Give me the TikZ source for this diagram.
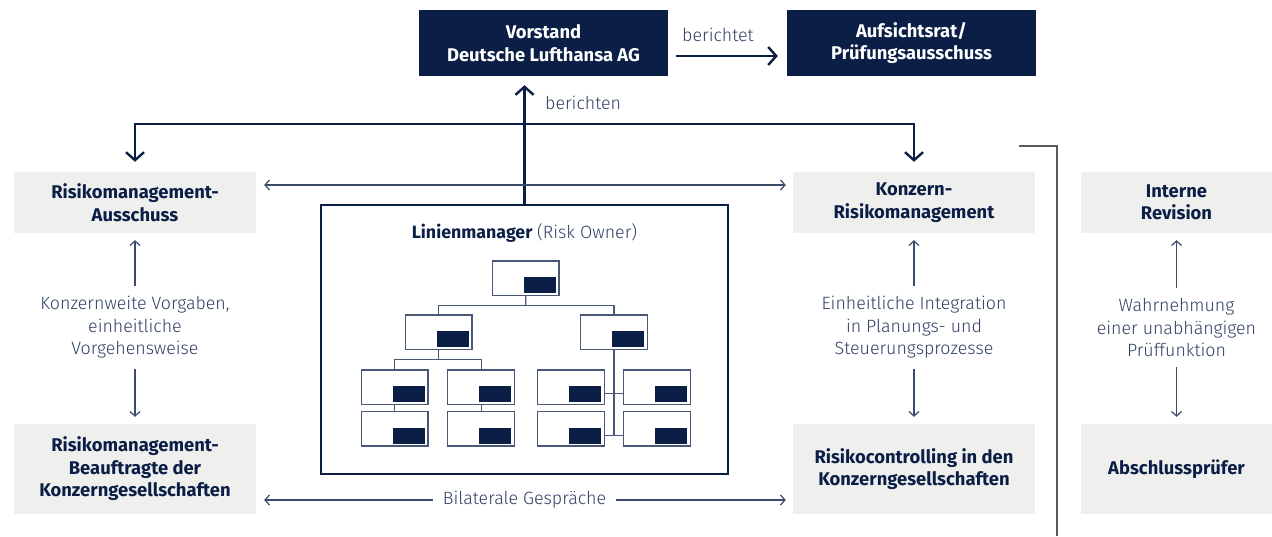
\documentclass[tikz,border=0pt]{standalone}
\usepackage{fontspec}
\setmainfont{Fira Sans}
\newfontfamily\lightfont{Fira Sans Light}
\usetikzlibrary{arrows.meta,calc}
\definecolor{navy}{HTML}{0A1E46}
\definecolor{boxgray}{HTML}{EFEFEE}
\definecolor{thinline}{HTML}{3A4B6C}
\definecolor{txt}{HTML}{2E3F62}
\definecolor{orgline}{HTML}{4A5878}
\definecolor{bracketgray}{HTML}{5A5A5A}
\begin{document}
\begin{tikzpicture}[x=1pt,y=-1pt,
  boldtxt/.style={font=\fontsize{18.4}{22.5}\selectfont\bfseries},
  darkbox/.style={fill=navy,text=white,boldtxt,minimum width=249pt,minimum height=66pt,inner sep=0pt,align=center},
  graybox/.style={fill=boxgray,text=navy,boldtxt,minimum width=242pt,minimum height=61pt,inner sep=0pt,align=center},
  lbl/.style={text=txt,font=\lightfont\fontsize{17.8}{22.5}\selectfont,align=center,inner xsep=0pt,inner ysep=10pt},
  thickarrow/.style={draw=navy,line width=2.4pt,-{Straight Barb[length=8pt,width=18pt,line width=2.4pt]}},
  thinarrow/.style={draw=thinline,line width=1.2pt,-{Straight Barb[length=4.5pt,width=10pt,line width=1.2pt]}},
  thinboth/.style={draw=thinline,line width=1.2pt,{Straight Barb[length=4.5pt,width=10pt,line width=1.2pt]}-{Straight Barb[length=4.5pt,width=10pt,line width=1.2pt]}},
  orgbox/.style={draw=orgline,line width=1.2pt,fill=white,minimum width=66.7pt,minimum height=34.3pt,inner sep=0pt},
  orgconn/.style={draw=orgline,line width=1.2pt},
]
\useasboundingbox (0,0) rectangle (1272,536);

% top boxes
\node[darkbox] (vor) at (543.5,43) {Vorstand\\Deutsche Lufthansa AG};
\node[darkbox] (auf) at (911.5,43) {Aufsichtsrat/\\Prüfungsausschuss};
\draw[thickarrow,shorten <=8pt,shorten >=9pt] ($(vor.east)+(0,13)$) -- ($(auf.west)+(0,13)$);
\node[lbl,inner ysep=0pt] (lbt) at (718,35) {berichtet};

% gray boxes
\node[graybox] (rma) at (135,202.5) {Risikomanagement-\\Ausschuss};
\node[graybox] (krm) at (914,202.5) {Konzern-\\Risikomanagement};
\node[graybox,minimum width=191pt] (ir) at (1176.5,202.5) {Interne\\Revision};
\node[graybox,minimum height=90pt] (rmb) at (135,469) {Risikomanagement-\\Beauftragte der\\Konzerngesellschaften};
\node[graybox,minimum height=90pt] (rc) at (914,469) {Risikocontrolling in den\\Konzerngesellschaften};
\node[graybox,minimum width=191pt,minimum height=90pt] (ap) at (1176.5,469) {Abschlussprüfer};

% Linienmanager box
\node[draw=navy,line width=1.2pt,minimum width=407pt,minimum height=269pt,inner sep=0pt] (lm) at (524.5,339.5) {};
\node[text=navy,font=\fontsize{17.8}{22.5}\selectfont,inner sep=0pt] (lmt) at (524.5,233) {{\bfseries Linienmanager} {\lightfont\mdseries\color{txt}(Risk Owner)}};

% reporting arrows
\coordinate (hub) at (524,124);
\draw[thickarrow,shorten >=10pt] (hub) -| (rma.north);
\draw[thickarrow,shorten >=10pt] (hub) -| (krm.north);
\draw[thickarrow,shorten >=9pt] (lm.north) -- (lm.north |- vor.south);
\node[lbl,inner sep=0pt,anchor=west] (lbn) at (545,103) {berichten};

% horizontal thin double arrows
\draw[thinboth,shorten <=8pt,shorten >=7pt] ($(rma.east)+(0,-17.5)$) -- ($(krm.west)+(0,-17.5)$);
\draw[thinboth,shorten <=8pt,shorten >=7pt] ($(rmb.east)+(0,31)$) -- node[fill=white,text=txt,font=\lightfont\fontsize{17.8}{22.5}\selectfont,inner xsep=10pt,inner ysep=2pt] (bil) {Bilaterale Gespräche} ($(rc.west)+(0,31)$);

% vertical labels and arrows
\node[lbl] (l1) at (135,327.5) {Konzernweite Vorgaben,\\einheitliche\\Vorgehensweise};
\node[lbl] (l2) at (914,327.5) {Einheitliche Integration\\in Planungs- und\\Steuerungsprozesse};
\node[lbl] (l3) at (1176.5,327.5) {Wahrnehmung\\einer unabhängigen\\Prüffunktion};
\foreach \l/\a/\b in {l1/rma/rmb,l2/krm/rc,l3/ir/ap}{
  \draw[thinarrow,shorten >=7pt] (\l.north) -- (\a.south);
  \draw[thinarrow,shorten >=7pt] (\l.south) -- (\b.north);
}

% org chart
\node[orgbox] (top) at (525.7,278.15) {};
\node[orgbox] (l2a) at (438.65,332.15) {};
\node[orgbox] (l2b) at (614,332.15) {};
\node[orgbox] (a3) at (394.65,387.15) {};
\node[orgbox] (b3) at (481.15,387.15) {};
\node[orgbox] (c3) at (571,387.15) {};
\node[orgbox] (d3) at (657.15,387.15) {};
\node[orgbox] (a4) at (394.65,428.85) {};
\node[orgbox] (b4) at (481.15,428.85) {};
\node[orgbox] (c4) at (571,428.85) {};
\node[orgbox] (d4) at (657.15,428.85) {};
\foreach \n in {top,l2a,l2b,a3,b3,c3,d3,a4,b4,c4,d4}{
  \fill[navy] ($(\n.south east)+(-3.7,-2.6)$) rectangle ++(-32,-16);
}
\coordinate (tj) at ($(top.south)!.5!(top.south|-l2a.north)$);
\draw[orgconn] (top.south) -- (tj);
\draw[orgconn] (tj) -| (l2a.north);
\draw[orgconn] (tj) -| (l2b.north);
\coordinate (aj) at ($(l2a.south)!.5!(l2a.south|-a3.north)$);
\draw[orgconn] (l2a.south) -- (aj);
\draw[orgconn] (aj) -| (a3.north);
\draw[orgconn] (aj) -| (b3.north);
\draw[orgconn] (a3.south) -- (a4.north);
\draw[orgconn] (b3.south) -- (b4.north);
\draw[orgconn] (l2b.south) -- ($(l2b.south|-c4.east)+(0,6.5)$);
\draw[orgconn] ($(c3.east)+(0,6)$) -- ($(d3.west)+(0,6)$);
\draw[orgconn] ($(c4.east)+(0,6.5)$) -- ($(d4.west)+(0,6.5)$);

% bracket line
\draw[draw=bracketgray,line width=1.2pt] (1019,146) -| (1057,536);
\end{tikzpicture}
\end{document}
